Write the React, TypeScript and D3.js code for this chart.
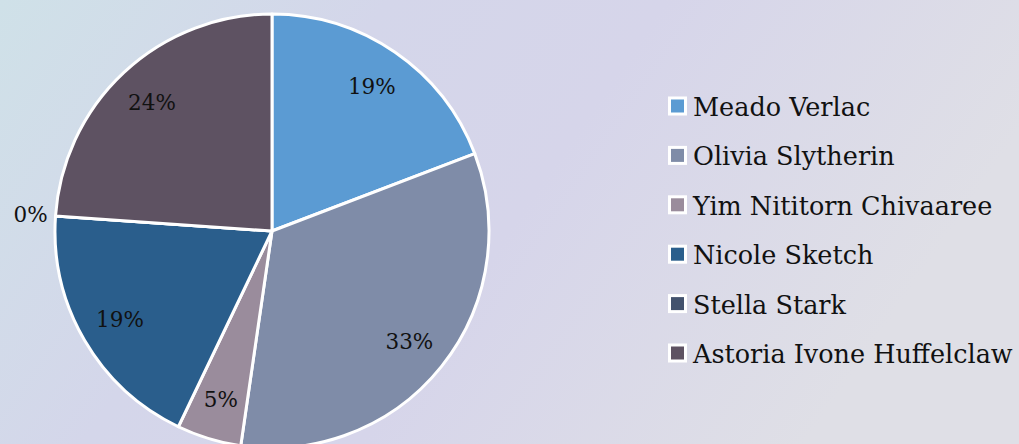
import React from "react";
import * as d3 from "d3";

const names = [
  "Meado Verlac",
  "Olivia Slytherin",
  "Yim Nititorn Chivaaree",
  "Nicole Sketch",
  "Stella Stark",
  "Astoria Ivone Huffelclaw",
];
const values = [19.2, 33.1, 4.8, 19.0, 0, 23.9];
const labels = ["19%", "33%", "5%", "19%", "0%", "24%"];
const colors = ["#5B9BD3", "#7F8CA8", "#9A8C9C", "#2A5E8C", "#43526D", "#5E5262"];

const W = 1019;
const H = 444;
const cx = 272;
const cy = 231;
const R = 217;

export default function App() {
  const pie = d3.pie<number>().value((d) => d).sort(null);
  const arcs = pie(values);
  const arc = d3.arc<d3.PieArcDatum<number>>().innerRadius(0).outerRadius(R);
  const labelArc = d3.arc<d3.PieArcDatum<number>>().innerRadius(176).outerRadius(176);
  const outArc = d3.arc<d3.PieArcDatum<number>>().innerRadius(242).outerRadius(242);
  const font = "'DejaVu Serif', serif";
  const legendY = d3.scaleLinear().domain([0, names.length - 1]).range([106, 353]);

  return (
    <svg
      width={W}
      height={H}
      style={{ position: "absolute", left: 0, top: 0, display: "block" }}
    >
      <defs>
        <linearGradient id="bg" x1="0" y1="0" x2="1" y2="0.3">
          <stop offset="0" stopColor="#cfe1e8" />
          <stop offset="0.35" stopColor="#d4d6ea" />
          <stop offset="0.6" stopColor="#d6d5ea" />
          <stop offset="1" stopColor="#dfdfe6" />
        </linearGradient>
      </defs>
      <rect x={0} y={0} width={W} height={H} fill="url(#bg)" />
      <g transform={`translate(${cx},${cy})`}>
        {arcs.map((a, i) => (
          <path
            key={i}
            d={arc(a) || ""}
            fill={colors[i]}
            stroke="#ffffff"
            strokeWidth={3}
            strokeLinejoin="round"
          />
        ))}
        {arcs.map((a, i) => {
          const [x, y] = values[i] === 0 ? outArc.centroid(a) : labelArc.centroid(a);
          return (
            <text
              key={"l" + i}
              x={x}
              y={y}
              textAnchor="middle"
              dominantBaseline="central"
              fontFamily={font}
              fontSize={21.5}
              fill="#111"
            >
              {labels[i]}
            </text>
          );
        })}
      </g>
      <g>
        {names.map((n, i) => (
          <g key={n} transform={`translate(668,${legendY(i)})`}>
            <rect x={0} y={-9.5} width={19} height={19} fill="#ffffff" />
            <rect x={3} y={-6.5} width={13} height={13} fill={colors[i]} />
            <text
              x={25}
              y={1}
              dominantBaseline="central"
              fontFamily={font}
              fontSize={25.5}
              fill="#111"
            >
              {n}
            </text>
          </g>
        ))}
      </g>
    </svg>
  );
}
